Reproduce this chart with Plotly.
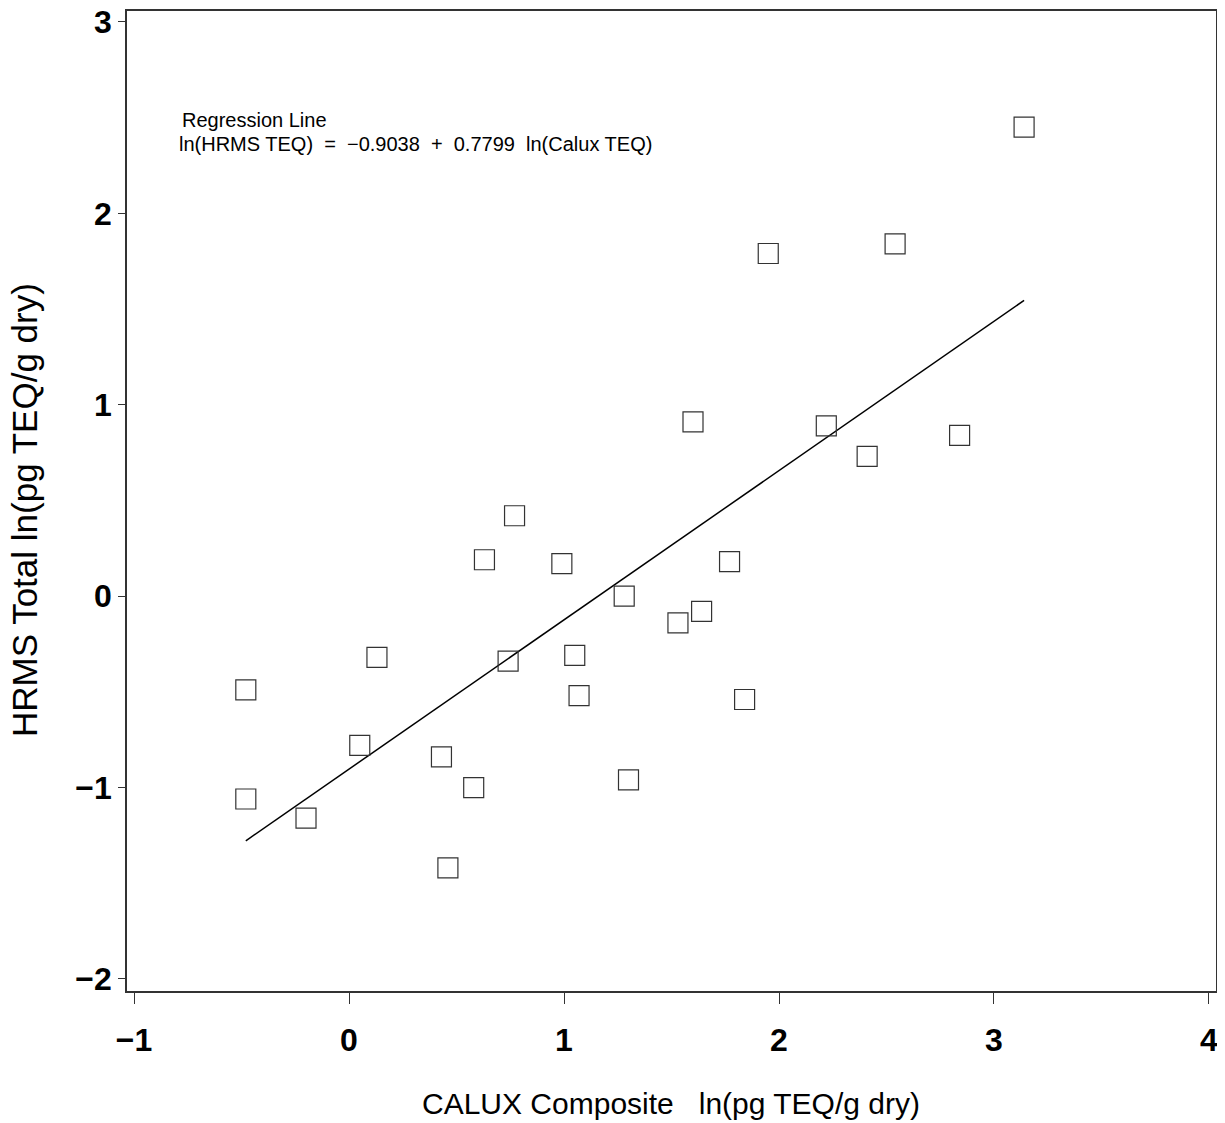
import plotly.graph_objects as go

calux = [-0.48, -0.48, -0.20, 0.05, 0.13, 0.43, 0.46, 0.58, 0.63, 0.74, 0.77, 0.99, 1.05, 1.07,
         1.28, 1.30, 1.53, 1.60, 1.64, 1.77, 1.84, 1.95, 2.22, 2.41, 2.54, 2.84, 3.14]
hrms = [-0.49, -1.06, -1.16, -0.78, -0.32, -0.84, -1.42, -1.00, 0.19, -0.34, 0.42, 0.17, -0.31, -0.52,
        0.00, -0.96, -0.14, 0.91, -0.08, 0.18, -0.54, 1.79, 0.89, 0.73, 1.84, 0.84, 2.45]
intercept = -0.9038
slope = 0.7799
x_ticks = [-1, 0, 1, 2, 3, 4]
y_ticks = [-2, -1, 0, 1, 2, 3]

line_x = [min(calux), max(calux)]
line_y = [intercept + slope * v for v in line_x]

font_main = "Liberation Sans, Arial, sans-serif"

# page body has an 8px margin; figure is sized so it fills the window
W, H = 1217, 1115
L, T, R, B = 119, 3, 9, 132
pw, ph = W - L - R, H - T - B

fig = go.Figure()
fig.add_trace(go.Scatter(x=line_x, y=line_y, mode="lines",
                         line=dict(color="black", width=1.5), hoverinfo="skip"))
fig.add_trace(go.Scatter(x=calux, y=hrms, mode="markers",
                         marker=dict(symbol="square-open", size=20, color="#333333",
                                     line=dict(width=1.2, color="#333333"))))

fig.update_layout(
    width=W, height=H,
    margin=dict(l=L, r=R, t=T, b=B),
    plot_bgcolor="white", paper_bgcolor="white",
    showlegend=False,
    font=dict(family=font_main, color="black"),
)
fig.update_xaxes(range=[-1.0326, 4.0326], tickvals=x_ticks,
                 ticktext=["<b>\u22121</b>" if v < 0 else "<b>%d</b>" % v for v in x_ticks],
                 showgrid=False, zeroline=False, showline=True, linecolor="#333333", linewidth=1.5,
                 mirror=True, ticks="outside", ticklen=11, tickcolor="#333333", tickwidth=1,
                 ticklabelstandoff=9, ticklabeloverflow="allow", automargin=False,
                 tickfont=dict(family=font_main, size=32, color="black"))
fig.update_yaxes(range=[-2.063, 3.057], tickvals=y_ticks,
                 ticktext=["<b>\u2212%d</b>" % (-v) if v < 0 else "<b>%d</b>" % v for v in y_ticks],
                 showgrid=False, zeroline=False, showline=True, linecolor="#333333", linewidth=1.5,
                 mirror=True, ticks="outside", ticklen=7, tickcolor="#333333", tickwidth=1,
                 ticklabeloverflow="allow", automargin=False,
                 tickfont=dict(family=font_main, size=32, color="black"))

def px(xp):
    return (xp - 8 - L) / pw

def py(yp):
    return 1 - (yp - 8 - T) / ph

fig.add_annotation(text="Regression Line", xref="paper", yref="paper",
                   x=px(180), y=py(120), xanchor="left", yanchor="middle",
                   showarrow=False, font=dict(family=font_main, size=20, color="black"))
fig.add_annotation(text="ln(HRMS TEQ)  =  \u22120.9038  +  0.7799  ln(Calux TEQ)", xref="paper", yref="paper",
                   x=px(177), y=py(144), xanchor="left", yanchor="middle",
                   showarrow=False, font=dict(family=font_main, size=20, color="black"))
fig.add_annotation(text="CALUX Composite   ln(pg TEQ/g dry)", xref="paper", yref="paper",
                   x=px(671), y=py(1103), xanchor="center", yanchor="middle",
                   showarrow=False, font=dict(family=font_main, size=30, color="black"))
fig.add_annotation(text="HRMS Total ln(pg TEQ/g dry)", xref="paper", yref="paper",
                   x=px(24), y=py(510), xanchor="center", yanchor="middle",
                   textangle=-90, showarrow=False, font=dict(family=font_main, size=35, color="black"))

fig.write_html("out.html")
